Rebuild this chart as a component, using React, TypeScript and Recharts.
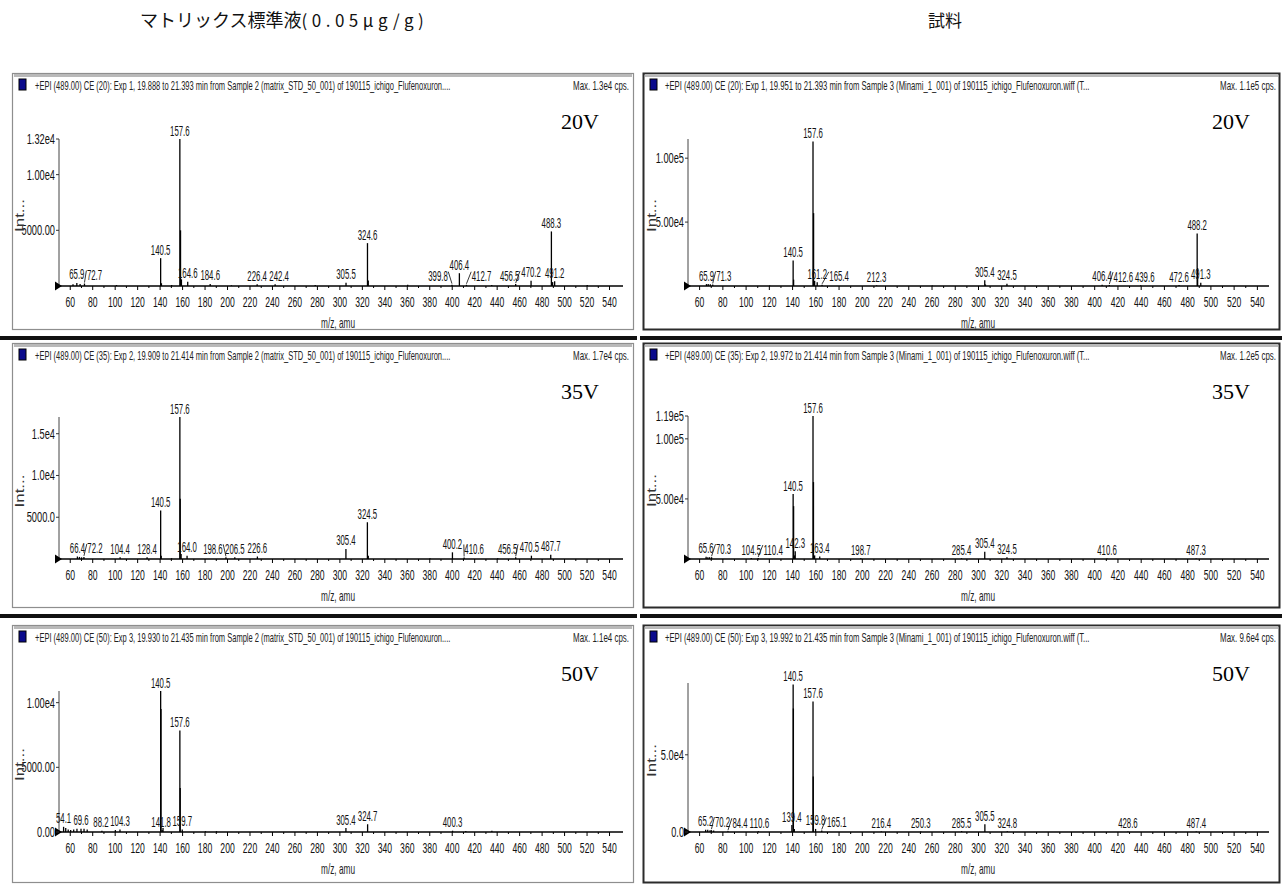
import React from 'react';
import { ComposedChart, Bar, XAxis, YAxis, LabelList, ReferenceDot } from 'recharts';

type Peak = [number, number];

// ---------------- DATA ----------------
const pageTitleLeftMain = 'マトリックス標準液';
const pageTitleLeftUnit = '(0.05μg/g)';
const pageTitleRight = '試料';

const xMajorTicks = [60, 80, 100, 120, 140, 160, 180, 200, 220, 240, 260, 280, 300, 320, 340, 360, 380, 400, 420, 440, 460, 480, 500, 520, 540];
const xMinorTicks = [70, 90, 110, 130, 150, 170, 190, 210, 230, 250, 270, 290, 310, 330, 350, 370, 390, 410, 430, 450, 470, 490, 510, 530];

// Standard, CE 20
const std20Header = '+EPI (489.00) CE (20): Exp 1, 19.888 to 21.393 min from Sample 2 (matrix_STD_50_001) of 190115_ichigo_Flufenoxuron....';
const std20Max = 'Max. 1.3e4 cps.';
const std20Peaks: Peak[] = [
  [157.6, 13200], [488.3, 4900], [324.6, 3850], [140.5, 2500], [406.4, 1150], [470.2, 480], [491.2, 420],
  [164.6, 380], [305.5, 300], [65.9, 280], [72.7, 220], [184.6, 180], [456.5, 170], [226.4, 150], [242.4, 150],
  [399.8, 120], [412.7, 110],
];
const std20Minor: Peak[] = [
  [158.2, 5000], [159.0, 600], [325.3, 500], [141.2, 250], [62.5, 150], [68.8, 180], [101.2, 90], [150.3, 80],
  [278.1, 100], [360.4, 120], [489.4, 350], [520.2, 90], [203.5, 60], [435.2, 80],
];
const std20YTicks = [13200, 10000, 5000];
const std20YLabels = ['1.32e4', '1.00e4', '5000.00'];
const std20YMax = 13200;

// Sample, CE 20
const smp20Header = '+EPI (489.00) CE (20): Exp 1, 19.951 to 21.393 min from Sample 3 (Minami_1_001) of 190115_ichigo_Flufenoxuron.wiff (T...';
const smp20Max = 'Max. 1.1e5 cps.';
const smp20Peaks: Peak[] = [
  [157.6, 113000], [488.2, 41000], [140.5, 20000], [305.4, 4500], [161.2, 3000], [491.3, 2500], [324.5, 1800],
  [65.9, 1500], [71.3, 1200], [406.4, 900], [165.4, 900], [412.6, 700], [472.6, 700], [439.6, 600], [212.3, 500],
];
const smp20Minor: Peak[] = [
  [158.1, 57000], [488.6, 14000], [140.9, 5000], [159.0, 4000], [67.4, 1600], [69.2, 1300], [306.0, 1200],
  [120.3, 400], [260.2, 400],
];
const smp20YTicks = [100000, 50000];
const smp20YLabels = ['1.00e5', '5.00e4'];
const smp20YMax = 115000;

// Standard, CE 35
const std35Header = '+EPI (489.00) CE (35): Exp 2, 19.909 to 21.414 min from Sample 2 (matrix_STD_50_001) of 190115_ichigo_Flufenoxuron....';
const std35Max = 'Max. 1.7e4 cps.';
const std35Peaks: Peak[] = [
  [157.6, 17000], [140.5, 5800], [324.5, 4400], [305.4, 1200], [400.2, 800], [487.7, 500], [164.0, 400],
  [470.5, 400], [66.4, 300], [226.6, 300], [72.2, 250], [206.5, 220], [104.4, 200], [128.4, 200], [198.6, 200],
  [456.5, 200], [410.6, 180],
];
const std35Minor: Peak[] = [
  [157.9, 7200], [158.7, 600], [141.0, 400], [68.2, 250], [70.1, 200], [325.3, 400], [380.2, 100], [440.5, 100],
  [150.2, 100],
];
const std35YTicks = [15000, 10000, 5000];
const std35YLabels = ['1.5e4', '1.0e4', '5000.0'];
const std35YMax = 17000;

// Sample, CE 35
const smp35Header = '+EPI (489.00) CE (35): Exp 2, 19.972 to 21.414 min from Sample 3 (Minami_1_001) of 190115_ichigo_Flufenoxuron.wiff (T...';
const smp35Max = 'Max. 1.2e5 cps.';
const smp35Peaks: Peak[] = [
  [157.6, 119000], [140.5, 54000], [142.3, 6500], [305.4, 6000], [163.4, 2000], [65.6, 1800], [70.3, 1500],
  [324.5, 1500], [104.5, 800], [110.4, 800], [198.7, 600], [285.4, 600], [410.6, 500], [487.3, 500],
];
const smp35Minor: Peak[] = [
  [158.0, 64000], [140.9, 44000], [159.0, 3000], [67.1, 1500], [68.6, 1500], [141.6, 3000],
];
const smp35YTicks = [119000, 100000, 50000];
const smp35YLabels = ['1.19e5', '1.00e5', '5.00e4'];
const smp35YMax = 119000;

// Standard, CE 50
const std50Header = '+EPI (489.00) CE (50): Exp 3, 19.930 to 21.435 min from Sample 2 (matrix_STD_50_001) of 190115_ichigo_Flufenoxuron....';
const std50Max = 'Max. 1.1e4 cps.';
const std50Peaks: Peak[] = [
  [140.5, 10900], [157.6, 7850], [324.7, 600], [54.1, 400], [305.4, 300], [69.6, 250], [104.3, 200],
  [159.7, 200], [141.8, 150], [88.2, 100], [400.3, 100],
];
const std50Minor: Peak[] = [
  [140.8, 9500], [157.9, 3400], [56.0, 300], [58.2, 200], [60.4, 150], [63.1, 200], [66.0, 250], [72.3, 250],
  [75.1, 200], [100.2, 150], [142.6, 300], [435.3, 100], [412.1, 80], [180.4, 60], [190.2, 60],
];
const std50YTicks = [10000, 5000, 0];
const std50YLabels = ['1.00e4', '5000.00', '0.00'];
const std50YMax = 10900;

// Sample, CE 50
const smp50Header = '+EPI (489.00) CE (50): Exp 3, 19.992 to 21.435 min from Sample 3 (Minami_1_001) of 190115_ichigo_Flufenoxuron.wiff (T...';
const smp50Max = 'Max. 9.6e4 cps.';
const smp50Peaks: Peak[] = [
  [140.5, 95500], [157.6, 84500], [305.5, 5000], [139.4, 4500], [159.8, 2000], [65.2, 1500], [70.2, 1200],
  [165.1, 1000], [285.5, 600], [84.4, 500], [110.6, 500], [324.8, 500], [216.4, 400], [250.3, 400],
  [428.6, 400], [487.4, 400],
];
const smp50Minor: Peak[] = [
  [140.7, 80000], [157.8, 36000], [141.5, 2000], [67.0, 1500], [69.0, 1200], [72.1, 1000],
];
const smp50YTicks = [50000, 0];
const smp50YLabels = ['5.0e4', '0.0'];
const smp50YMax = 96500;

// ---------------- LAYOUT ----------------
const FAMILY = 'Liberation Sans';
const CJK = 'Noto Sans CJK JP';
const COLS = [
  { x: 12, w: 622, plotL: 59, plotR: 623, xMax: 552, headerX: 35, headerLen: 416, maxRight: 629, voltX: 580, intX: 20, mzX: 338, dark: false },
  { x: 643, w: 637, plotL: 688, plotR: 1269, xMax: 550, headerX: 665, headerLen: 425, maxRight: 1276, voltX: 1231, intX: 652, mzX: 978, dark: true },
];
const ROWS = [
  { top: 73, h: 257, base: 286, plotTop: [139, 139] },
  { top: 343, h: 265, base: 559, plotTop: [417, 416] },
  { top: 625, h: 258, base: 832, plotTop: [691, 683] },
];

const spectra = [
  { col: 0, row: 0, header: std20Header, max: std20Max, volt: '20V', peaks: std20Peaks, minor: std20Minor, yTicks: std20YTicks, yLabels: std20YLabels, yMax: std20YMax },
  { col: 1, row: 0, header: smp20Header, max: smp20Max, volt: '20V', peaks: smp20Peaks, minor: smp20Minor, yTicks: smp20YTicks, yLabels: smp20YLabels, yMax: smp20YMax },
  { col: 0, row: 1, header: std35Header, max: std35Max, volt: '35V', peaks: std35Peaks, minor: std35Minor, yTicks: std35YTicks, yLabels: std35YLabels, yMax: std35YMax },
  { col: 1, row: 1, header: smp35Header, max: smp35Max, volt: '35V', peaks: smp35Peaks, minor: smp35Minor, yTicks: smp35YTicks, yLabels: smp35YLabels, yMax: smp35YMax },
  { col: 0, row: 2, header: std50Header, max: std50Max, volt: '50V', peaks: std50Peaks, minor: std50Minor, yTicks: std50YTicks, yLabels: std50YLabels, yMax: std50YMax },
  { col: 1, row: 2, header: smp50Header, max: smp50Max, volt: '50V', peaks: smp50Peaks, minor: smp50Minor, yTicks: smp50YTicks, yLabels: smp50YLabels, yMax: smp50YMax },
];

const xAllTicks = [...xMajorTicks, ...xMinorTicks].sort((a, b) => a - b);

// width targets for the condensed look of the original
function tw(s: string, d: number) {
  let w = 0;
  for (const ch of s) {
    if (ch === '.' || ch === ',') w += d * 0.45;
    else if (ch === ' ') w += d * 0.5;
    else if (ch === 'm' || ch === 'M') w += d * 1.4;
    else w += d;
  }
  return w;
}

let measureCtx: any = null;
function measure(text: string, size: number, family: string) {
  try {
    if (!measureCtx) measureCtx = document.createElement('canvas').getContext('2d');
    measureCtx.font = `${size}px "${family}"`;
    const w = measureCtx.measureText(text).width;
    if (w > 0) return w;
  } catch (e) { /* ignore */ }
  return text.length * size * 0.55;
}

// text horizontally squeezed to a target width through a transform
function NText({ x, y, text, size, width, anchor = 'start', fill = '#111', family = FAMILY, rotate = 0 }: any) {
  const nat = measure(text, size, family);
  const sx = Math.min(1.3, width / nat);
  const tr = rotate ? `translate(${x} ${y}) rotate(${rotate}) scale(${sx} 1)` : `translate(${x} ${y}) scale(${sx} 1)`;
  return (
    <text transform={tr} x={0} y={0} textAnchor={anchor} fontSize={size} fontFamily={`"${family}", Arial, sans-serif`} fill={fill}>
      {text}
    </text>
  );
}

function buildData(labeled: Peak[], minor: Peak[]) {
  const sorted = [...labeled].sort((a, b) => b[1] - a[1]);
  const rows: { mz: number; intensity: number; label: string }[] = sorted.map(([mz, it]) => ({ mz, intensity: it, label: mz.toFixed(1) }));
  const rank: Record<string, number> = {};
  rows.forEach((r, i) => { rank[r.label] = i; });
  minor.forEach(([mz, it]) => rows.push({ mz, intensity: it, label: '' }));
  return { rows, rank };
}

const LABEL_DIGIT = 4.4;
const LABEL_SIZE = 15;

function renderXTick(props: any) {
  const { x, y, payload } = props;
  const v = payload.value;
  const major = xMajorTicks.includes(v);
  return (
    <g key={`xt-${v}`}>
      <line x1={x} y1={y} x2={x} y2={y + (major ? 4 : 2)} stroke="#000" strokeWidth={1} />
      {major && <NText x={x} y={y + 21} text={String(v)} size={15} width={tw(String(v), 4.8)} anchor="middle" />}
    </g>
  );
}

function renderPeak(props: any) {
  const { x, y, width, height } = props;
  if (x == null || y == null || !isFinite(height)) return <g />;
  const cx = x + (width || 0) / 2;
  return <line x1={cx} y1={y} x2={cx} y2={y + height} stroke="#000" strokeWidth={1.3} />;
}

function renderTriangle(props: any) {
  const { cx, cy } = props;
  if (cx == null || cy == null) return <g />;
  return <polygon points={`${cx - 4},${cy - 4.5} ${cx + 3},${cy} ${cx - 4},${cy + 4.5}`} fill="#000" />;
}

function Spectrum({ spec }: { spec: any }) {
  const col = COLS[spec.col];
  const row = ROWS[spec.row];
  const { rows, rank } = buildData(spec.peaks, spec.minor);
  const registry: any[] = [];
  const plotTop = row.plotTop[spec.col];
  const plotLeftLocal = col.plotL - col.x;
  const xAxisH = 30;
  const margin = {
    top: plotTop - row.top,
    right: col.x + col.w - col.plotR,
    bottom: row.top + row.h - row.base - xAxisH,
    left: 0,
  };

  const renderYTick = (props: any) => {
    const { x, y, payload } = props;
    const idx = spec.yTicks.indexOf(payload.value);
    const lab = idx >= 0 ? spec.yLabels[idx] : '';
    return (
      <g key={`yt-${payload.value}`}>
        <line x1={x - 3} y1={y} x2={x} y2={y} stroke="#333" strokeWidth={1} />
        <NText x={x - 4} y={y + 5} text={lab} size={14} width={tw(lab, 5.2)} anchor="end" />
      </g>
    );
  };

  const labelContent = (props: any) => {
    const value = props.value;
    if (value === undefined || value === null || value === '') return null;
    const vb = props.viewBox || props;
    if (vb == null || vb.x == null) return null;
    const cx = vb.x + (vb.width || 0) / 2;
    const topY = Math.min(vb.y, vb.y + (vb.height || 0));
    const s = String(value);
    const w = tw(s, LABEL_DIGIT);
    const h = 12;
    const r = rank[s] ?? 0;
    const placed = registry.slice(0, r).filter(Boolean);
    const minX = plotLeftLocal + w / 2 - 4;
    const tryPlace = (cyTry: number, maxShift: number) => {
      const hit = (px: number) => px < minX || placed.some((b: any) => Math.abs(b.x - px) < (b.w + w) / 2 + 1.5 && Math.abs(b.y - cyTry) < h);
      if (!hit(cx)) return cx;
      for (let d = 1; d <= maxShift; d++) {
        if (!hit(cx - d)) return cx - d;
        if (!hit(cx + d)) return cx + d;
      }
      return null;
    };
    let cy = topY - 9;
    let lx = tryPlace(cy, 18);
    if (lx === null) {
      const cy2 = cy - 13;
      const l2 = tryPlace(cy2, 10);
      if (l2 !== null) { cy = cy2; lx = l2; } else { lx = Math.max(cx, minX); }
    }
    registry[r] = { x: lx, y: cy, w };
    const shift = lx - cx;
    let leader = null;
    if (Math.abs(shift) > 5) {
      const ex = shift < 0 ? lx + w / 2 + 0.5 : lx - w / 2 - 0.5;
      leader = <line x1={ex} y1={cy - 4} x2={cx} y2={topY - 1} stroke="#222" strokeWidth={0.9} />;
    }
    return (
      <g>
        {leader}
        <NText x={lx} y={cy + 5.5} text={s} size={LABEL_SIZE} width={w} anchor="middle" />
      </g>
    );
  };

  return (
    <div style={{ position: 'absolute', left: col.x, top: row.top, width: col.w, height: row.h }}>
      <ComposedChart width={col.w} height={row.h} data={rows} margin={margin}>
        <XAxis type="number" dataKey="mz" domain={[50, col.xMax]} allowDataOverflow ticks={xAllTicks} interval={0}
          height={xAxisH} tickSize={0} tickMargin={0} tickLine={false}
          axisLine={{ stroke: '#000', strokeWidth: 1.7 }} tick={renderXTick} />
        <YAxis type="number" domain={[0, spec.yMax]} allowDataOverflow ticks={spec.yTicks} interval={0}
          width={plotLeftLocal} tickSize={0} tickMargin={0} tickLine={false}
          axisLine={{ stroke: '#444', strokeWidth: 1 }} tick={renderYTick} />
        <Bar dataKey="intensity" barSize={1} isAnimationActive={false} shape={renderPeak}>
          <LabelList dataKey="label" content={labelContent} />
        </Bar>
        <ReferenceDot x={50} y={0} ifOverflow="visible" shape={renderTriangle} />
      </ComposedChart>
    </div>
  );
}

function PageTitleLeft() {
  const mainSize = 18;
  const unitSize = 17;
  const mainW = measure(pageTitleLeftMain, mainSize, CJK);
  const unitNat = measure(pageTitleLeftUnit, unitSize, CJK);
  const unitTarget = 312 - mainW;
  const n = Array.from(pageTitleLeftUnit).length;
  const ls = Math.max(0, Math.min(4.5, (unitTarget - unitNat) / n));
  return (
    <text x={140} y={27} fontFamily={`"${CJK}", sans-serif`} fill="#111">
      <tspan fontSize={mainSize}>{pageTitleLeftMain}</tspan>
      <tspan fontSize={unitSize} letterSpacing={ls}>{pageTitleLeftUnit}</tspan>
    </text>
  );
}

export default function App() {
  return (
    <div style={{ position: 'absolute', left: 0, top: 0, width: 1282, height: 884, background: '#fff', overflow: 'hidden' }}>
      {/* frames underneath */}
      <svg width={1282} height={884} style={{ position: 'absolute', left: 0, top: 0 }}>
        {spectra.map((sp, i) => {
          const col = COLS[sp.col];
          const row = ROWS[sp.row];
          return (
            <g key={`frame-${i}`}>
              <rect x={col.x + 0.5} y={row.top + 0.5} width={col.w - 1} height={row.h - 1} fill="#fff"
                stroke={col.dark ? '#2b2b2b' : '#8e8e8e'} strokeWidth={col.dark ? 2 : 1.2} />
              <rect x={col.x + 2} y={row.top + 1} width={col.w - 4} height={3} fill="#b9b9b9" />
            </g>
          );
        })}
        <rect x={0} y={336} width={637} height={4} fill="#111" />
        <rect x={640} y={336} width={642} height={4} fill="#111" />
        <rect x={0} y={614} width={637} height={4} fill="#111" />
        <rect x={640} y={614} width={642} height={4} fill="#111" />
      </svg>

      {spectra.map((sp, i) => <Spectrum key={`sp-${i}`} spec={sp} />)}

      {/* text overlay */}
      <svg width={1282} height={884} style={{ position: 'absolute', left: 0, top: 0, pointerEvents: 'none' }}>
        <PageTitleLeft />
        <text x={945} y={27} textAnchor="middle" fontSize={17} fontFamily={`"${CJK}", sans-serif`} fill="#111">{pageTitleRight}</text>
        {spectra.map((sp, i) => {
          const col = COLS[sp.col];
          const row = ROWS[sp.row];
          const plotTop = row.plotTop[sp.col];
          const mid = (plotTop + row.base) / 2 + 3;
          return (
            <g key={`txt-${i}`}>
              <rect x={col.x + 7} y={row.top + 6} width={7} height={11} fill="#0a0a8c" stroke="#000" strokeWidth={1} />
              <NText x={col.headerX} y={row.top + 16.5} text={sp.header} size={13} width={col.headerLen} fill="#222" />
              <NText x={col.maxRight} y={row.top + 17} text={sp.max} size={13} width={56} anchor="end" fill="#222" />
              <text x={col.voltX} y={row.top + 56} textAnchor="middle" fontSize={22}
                fontFamily='"Liberation Serif", "DejaVu Serif", serif' fill="#000">{sp.volt}</text>
              <NText x={col.intX + 4} y={mid} text="Int..." size={13} width={36} anchor="middle" rotate={-90} fill="#333" />
              <NText x={col.mzX} y={row.base + 42} text="m/z, amu" size={14} width={34} anchor="middle" fill="#222" />
            </g>
          );
        })}
      </svg>
    </div>
  );
}
